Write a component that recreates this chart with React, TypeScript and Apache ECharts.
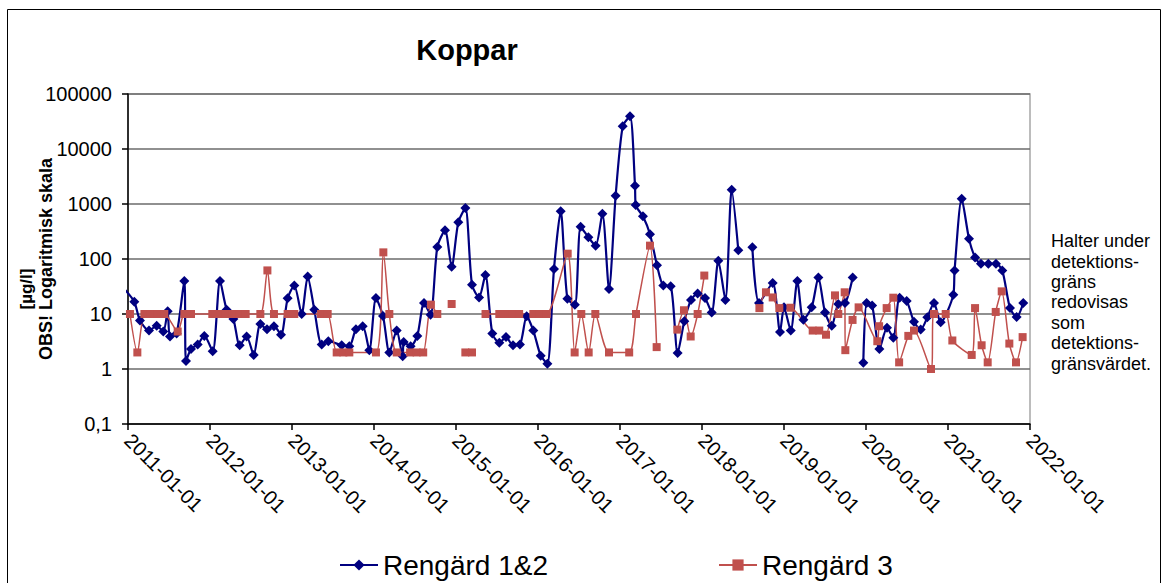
import React, { useEffect, useRef } from 'react';
import * as echarts from 'echarts';

const seriesNames = ['Rengärd 1&2', 'Rengärd 3'];
const titleText = 'Koppar';
const yNameUnit = '[µg/l]';
const yNameNote = 'OBS! Logaritmisk skala';
const noteLines = ['Halter under', 'detektions-', 'gräns', 'redovisas', 'som', 'detektions-', 'gränsvärdet.'];

// sampling time as decimal year, value in µg/l (null = no sample -> gap)
const blueYears = [
  2010.96, 2011.077, 2011.146, 2011.256, 2011.35, 2011.431, 2011.484, 2011.512, 2011.593, 2011.687,
  2011.707, 2011.768, 2011.85, 2011.931, 2012.033, 2012.122, 2012.203, 2012.285, 2012.362, 2012.447,
  2012.533, 2012.614, 2012.695, 2012.78, 2012.866, 2012.947, 2013.028, 2013.118, 2013.191, 2013.272,
  2013.362, 2013.443, 2013.606, 2013.699, 2013.78, 2013.862, 2013.943, 2014.024, 2014.11, 2014.187,
  2014.277, 2014.35, 2014.362, 2014.447, 2014.528, 2014.61, 2014.69, 2014.772, 2014.866, 2014.947,
  2015.028, 2015.114, 2015.195, 2015.281, 2015.358, 2015.443, 2015.528, 2015.61, 2015.695, 2015.78,
  2015.862, 2015.943, 2016.033, 2016.114, 2016.195, 2016.277, 2016.358, 2016.45, 2016.52, 2016.614,
  2016.703, 2016.785, 2016.866, 2016.947, 2017.033, 2017.122, 2017.183, 2017.191, 2017.28, 2017.366,
  2017.451, 2017.528, 2017.618, 2017.703, 2017.784, 2017.866, 2017.947, 2018.037, 2018.118, 2018.199,
  2018.285, 2018.362, 2018.443, 2018.53, 2018.614, 2018.695, 2018.862, 2018.951, 2019.0, 2019.082,
  2019.163, 2019.236, 2019.338, 2019.419, 2019.5, 2019.582, 2019.662, 2019.744, 2019.838, 2019.9,
  2019.967, 2020.008, 2020.075, 2020.163, 2020.256, 2020.333, 2020.41, 2020.496, 2020.585, 2020.667,
  2020.748, 2020.829, 2020.911, 2021.065, 2021.08, 2021.167, 2021.256, 2021.33, 2021.402, 2021.492,
  2021.585, 2021.662, 2021.756, 2021.837, 2021.918,
];
const blueValues: (number | null)[] = [
  28, 16.7, 7.6, 5.0, 6.1, 4.8, 11.2, 3.9, 4.4, 40,
  1.4, 2.3, 2.8, 4.0, 2.1, 40, 12, 8.1, 2.7, 3.9,
  1.8, 6.6, 5.3, 6.0, 4.2, 19.3, 33, 10, 48, 12,
  2.8, 3.2, 2.7, 2.6, 5.3, 6.0, 2.2, 19.5, 9.2, 2.0,
  5.0, 1.7, 3.1, 2.6, 4.0, 15.8, 9.7, 165, 332, 72,
  464, 845, 34, 20, 51, 4.4, 3.0, 3.8, 2.7, 2.8,
  9.1, 5.0, 1.75, 1.25, 66, 736, 19, 14.8, 385, 248,
  175, 667, 28.5, 1419, 25800, 39300, 2150, 960, 597, 281,
  77, 33, 32, 1.95, 7.4, 18, 23.5, 19.5, 10.7, 93,
  18, 1820, 144, null, 163, 15.8, 36.6, 4.7, 13.2, 5.0,
  40, 7.9, 13.2, 46, 10.7, 6.1, 15.2, 15.8, 46, null,
  1.3, 15.8, 14.2, 2.3, 5.6, 3.7, 19.8, 17.2, 7.2, 5.2,
  8.7, 15.8, 7.05, 22.5, 62, 1250, 234, 107, 82, 82,
  82, 62, 12.8, 8.8, 15.8,
];

const redYears = [
  2011.024, 2011.114, 2011.2, 2011.28, 2011.36, 2011.443, 2011.606, 2011.687, 2011.768, 2012.028,
  2012.11, 2012.19, 2012.272, 2012.354, 2012.435, 2012.614, 2012.7, 2012.78, 2012.947, 2013.028,
  2013.354, 2013.435, 2013.545, 2013.626, 2013.699, 2014.024, 2014.114, 2014.187, 2014.277, 2014.44,
  2014.52, 2014.6, 2014.694, 2014.772, 2014.86, 2014.947, 2015.03, 2015.114, 2015.195, 2015.28,
  2015.36, 2015.528, 2015.61, 2015.69, 2015.77, 2015.943, 2016.024, 2016.106, 2016.362, 2016.447,
  2016.528, 2016.618, 2016.699, 2016.866, 2017.112, 2017.195, 2017.366, 2017.447, 2017.57, 2017.699,
  2017.78, 2017.862, 2017.947, 2018.028, 2018.36, 2018.7, 2018.78, 2018.862, 2018.943, 2019.078,
  2019.35, 2019.43, 2019.512, 2019.622, 2019.662, 2019.74, 2019.748, 2019.836, 2019.91, 2020.138,
  2020.16, 2020.252, 2020.333, 2020.404, 2020.516, 2020.585, 2020.793, 2020.829, 2020.972, 2021.053,
  2021.289, 2021.33, 2021.41, 2021.484, 2021.582, 2021.655, 2021.748, 2021.829, 2021.91,
];
const redValues: (number | null)[] = [
  10, 2.0, 10, 10, 10, 10, 4.8, 10, 10, 10,
  10, 10, 10, 10, 10, 10, 62, 10, 10, 10,
  10, 10, 2.0, 2.0, 2.0, 2.0, 132, 10, 2.0, 2.0,
  2.0, 2.0, 14.8, 10, null, 15.2, null, 2.0, 2.0, null,
  10, 10, 10, 10, 10, 10, 10, 10, 125, 2.0,
  10, 2.0, 10, 2.0, 2.0, 10, 175, 2.5, null, 5.2,
  11.7, 3.9, 10, 50, null, 12.8, 24.8, 20, 12.8, 13,
  5.0, 5.0, 4.2, 21.8, 10, 24.8, 2.2, 7.8, 13.2, 3.2,
  6.0, 12.8, 19.8, 1.32, 4.0, 5.0, 1.0, 10, 10, 3.3,
  1.8, 12.8, 2.7, 1.32, 10.9, 25.8, 2.9, 1.32, 3.8,
];

const toData = (xs: number[], vs: (number | null)[]) =>
  xs.map((x, i) => [x, vs[i] == null ? '-' : vs[i]]);

const FONT = 'Arial, "Liberation Sans", sans-serif';

export default function App() {
  const ref = useRef<HTMLDivElement>(null);
  useEffect(() => {
    if (!ref.current) return;
    const chart = echarts.init(ref.current, null, { renderer: 'svg' });
    chart.setOption({
      animation: false,
      backgroundColor: '#ffffff',
      textStyle: { fontFamily: FONT },
      grid: {
        left: 128,
        top: 94,
        right: 138,
        bottom: 159,
        show: true,
        borderColor: '#a6a6a6',
        borderWidth: 1.5,
        containLabel: false,
        outerBoundsMode: 'none',
      },
      legend: {
        data: seriesNames,
        left: 334,
        top: 545,
        itemGap: 170,
        itemWidth: 38,
        itemHeight: 14,
        textStyle: { fontSize: 28, fontFamily: FONT, color: '#000', lineHeight: 30 },
      },
      xAxis: {
        type: 'value',
        min: 2011,
        max: 2022,
        interval: 1,
        axisLine: { lineStyle: { color: '#000', width: 1.5 } },
        axisTick: { show: true, length: 6, lineStyle: { color: '#000', width: 1.5 } },
        splitLine: { show: false },
        axisLabel: {
          rotate: -45,
          margin: 13,
          fontSize: 20,
          fontFamily: FONT,
          color: '#000',
          formatter: (v: number) => `${Math.round(v)}-01-01`,
        },
      },
      yAxis: {
        type: 'log',
        logBase: 10,
        min: 0.1,
        max: 100000,
        axisLine: { show: true, lineStyle: { color: '#000', width: 1.5 } },
        axisTick: { show: true, length: 6, lineStyle: { color: '#000', width: 1.5 } },
        splitLine: { show: true, lineStyle: { color: '#6b6b6b', width: 1.5 } },
        minorTick: { show: false },
        axisLabel: {
          margin: 16,
          fontSize: 20,
          fontFamily: FONT,
          color: '#000',
          formatter: (v: number) => (v < 1 ? '0,1' : String(Math.round(v))),
        },
      },
      series: [
        {
          name: seriesNames[0],
          type: 'line',
          data: toData(blueYears, blueValues),
          smooth: 0.25,
          connectNulls: false,
          clip: true,
          symbol: 'diamond',
          symbolSize: 10,
          itemStyle: { color: '#000080' },
          lineStyle: { color: '#000080', width: 2.2 },
        },
        {
          name: seriesNames[1],
          type: 'line',
          data: toData(redYears, redValues),
          smooth: 0.25,
          connectNulls: false,
          clip: true,
          symbol: 'rect',
          symbolSize: 8,
          itemStyle: { color: '#C0504D' },
          lineStyle: { color: '#C0504D', width: 1.5 },
        },
      ],
      graphic: [
        {
          type: 'rect',
          silent: true,
          shape: { x: 7.5, y: 9.5, width: 1153, height: 620 },
          style: { fill: 'none', stroke: '#000', lineWidth: 1 },
        },
        {
          type: 'text',
          x: 467,
          y: 50,
          style: {
            text: titleText,
            font: `bold 29px ${FONT}`,
            fill: '#000',
            align: 'center',
            verticalAlign: 'middle',
            textAlign: 'center',
            textVerticalAlign: 'middle',
          },
        },
        {
          type: 'text',
          x: 26,
          y: 289,
          rotation: Math.PI / 2,
          style: {
            text: yNameUnit,
            font: `bold 17px ${FONT}`,
            fill: '#000',
            align: 'center',
            verticalAlign: 'middle',
            textAlign: 'center',
            textVerticalAlign: 'middle',
          },
        },
        {
          type: 'text',
          x: 46,
          y: 259,
          rotation: Math.PI / 2,
          style: {
            text: yNameNote,
            font: `bold 18px ${FONT}`,
            fill: '#000',
            align: 'center',
            verticalAlign: 'middle',
            textAlign: 'center',
            textVerticalAlign: 'middle',
          },
        },
        {
          type: 'text',
          x: 1051,
          y: 231,
          style: {
            text: noteLines.join('\n'),
            font: `18px ${FONT}`,
            lineHeight: 20.4,
            fill: '#000',
            align: 'left',
            verticalAlign: 'top',
            textAlign: 'left',
            textVerticalAlign: 'top',
          },
        },
      ],
    });
    return () => chart.dispose();
  }, []);
  return (
    <div
      ref={ref}
      style={{ position: 'fixed', left: 0, top: 0, width: '1168px', height: '583px', background: '#fff' }}
    />
  );
}
